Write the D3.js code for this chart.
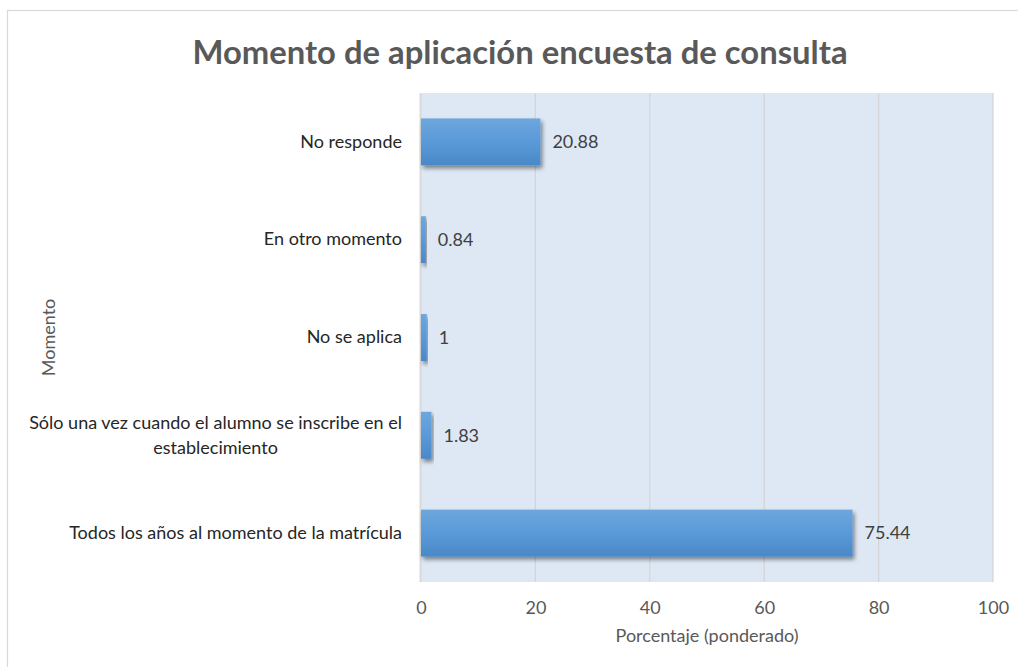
<!DOCTYPE html>
<html>
<head>
<meta charset="utf-8">
<script src="https://cdn.jsdelivr.net/npm/d3@7"></script>
<style>
  body { margin: 0; background: #fff; }
  svg { display: block; font-family: Lato, "Open Sans", sans-serif; }
</style>
</head>
<body>
<div id="chart"></div>
<script>
// data (top to bottom)
var categories = [
    "No responde",
    "En otro momento",
    "No se aplica",
    "Sólo una vez cuando el alumno se inscribe en el|establecimiento",
    "Todos los años al momento de la matrícula"
];
var values = [20.88, 0.84, 1, 1.83, 75.44];
var xTicks = [0, 20, 40, 60, 80, 100];
var title = "Momento de aplicación encuesta de consulta";
var xTitle = "Porcentaje (ponderado)";
var yTitle = "Momento";

var W = 1018, H = 667;
var FS = 18;
var plot = {left: 421, right: 993, top: 93, bottom: 582};

var svg = d3.select("#chart").append("svg")
    .attr("width", W).attr("height", H);

//---------------------------------------------------------------------
var defs = svg.append("defs");
var grad = defs.append("linearGradient").attr("id", "barGrad")
    .attr("x1", 0).attr("y1", 0).attr("x2", 0).attr("y2", 1);
grad.append("stop").attr("offset", "0%").attr("stop-color", "#6ea6dd");
grad.append("stop").attr("offset", "50%").attr("stop-color", "#5a9ad9");
grad.append("stop").attr("offset", "100%").attr("stop-color", "#4a88c7");
var shadow = defs.append("filter").attr("id", "shadow")
    .attr("x", "-10%").attr("y", "-20%").attr("width", "130%").attr("height", "160%");
shadow.append("feDropShadow").attr("dx", 2).attr("dy", 3).attr("stdDeviation", 2)
    .attr("flood-color", "#000").attr("flood-opacity", 0.45);

// chart border
svg.append("rect").attr("x", 7.5).attr("y", 10.5).attr("width", W).attr("height", H)
    .attr("fill", "none").attr("stroke", "#d9d9d9").attr("stroke-width", 1.2);

//---------------------------------------------------------------------
var x = d3.scaleLinear().domain([0, 100]).range([plot.left, plot.right]);
var y = d3.scaleBand().domain(categories).range([plot.top, plot.bottom]).paddingInner(0.52).paddingOuter(0.26);

// plot background
svg.append("rect").attr("x", plot.left).attr("y", plot.top)
    .attr("width", plot.right - plot.left).attr("height", plot.bottom - plot.top)
    .attr("fill", "#dee8f4");

// gridlines
svg.append("g").selectAll("line").data(xTicks.slice(1)).enter().append("line")
    .attr("x1", function(d){ return x(d); }).attr("x2", function(d){ return x(d); })
    .attr("y1", plot.top).attr("y2", plot.bottom)
    .attr("stroke", "#d2d4d8").attr("stroke-width", 1.2);

// value axis line at 0
svg.append("line").attr("x1", plot.left - 0.5).attr("x2", plot.left - 0.5)
    .attr("y1", plot.top).attr("y2", plot.bottom)
    .attr("stroke", "#d9d9d9").attr("stroke-width", 2);

// bars
svg.append("g").selectAll("rect").data(categories).enter().append("rect")
    .attr("x", x(0))
    .attr("y", function(d){ return y(d); })
    .attr("width", function(d, i){ return x(values[i]) - x(0); })
    .attr("height", y.bandwidth())
    .attr("fill", "url(#barGrad)")
    .attr("filter", "url(#shadow)");

// value labels
svg.append("g").selectAll("text").data(categories).enter().append("text")
    .attr("x", function(d, i){ return x(values[i]) + 12; })
    .attr("y", function(d){ return y(d) + y.bandwidth() / 2; })
    .attr("dy", "0.35em")
    .attr("font-size", FS).attr("fill", "#404040")
    .text(function(d, i){ return values[i]; });

// x axis
var xAxis = svg.append("g").attr("transform", "translate(0," + plot.bottom + ")")
    .call(d3.axisBottom(x).tickValues(xTicks).tickSize(0).tickPadding(19));
xAxis.select(".domain").remove();
xAxis.selectAll("text").attr("font-size", FS).attr("fill", "#595959")
    .attr("font-family", "Lato, 'Open Sans', sans-serif");

// y axis labels (multi-line ones centred in their own block)
var yAxis = svg.append("g").attr("transform", "translate(" + plot.left + ",0)")
    .call(d3.axisLeft(y).tickSize(0).tickPadding(19));
yAxis.select(".domain").remove();
yAxis.selectAll("text").each(function(d){
    var t = d3.select(this);
    var lines = d.split("|");
    t.text(null).attr("font-size", FS).attr("fill", "#262626")
        .attr("font-family", "Lato, 'Open Sans', sans-serif");
    if (lines.length == 1) { t.text(lines[0]); return; }
    t.attr("dy", null).attr("y", -12.5 + 6);
    var tx = +t.attr("x");
    lines.forEach(function(l, i){ t.append("tspan").attr("x", tx).attr("dy", i ? 25 : 0).text(l); });
    var w = this.getBBox().width;
    t.selectAll("tspan").attr("x", tx - w / 2);
    t.attr("text-anchor", "middle");
});

// titles
svg.append("text").attr("x", 520).attr("y", 64).attr("text-anchor", "middle")
    .attr("font-size", 32.8).attr("font-weight", "bold").attr("fill", "#595959")
    .text(title);
svg.append("text").attr("x", (plot.left + plot.right) / 2).attr("y", 642).attr("text-anchor", "middle")
    .attr("font-size", FS).attr("fill", "#595959").text(xTitle);
svg.append("text").attr("transform", "translate(55," + ((plot.top + plot.bottom) / 2) + ") rotate(-90)")
    .attr("text-anchor", "middle").attr("font-size", FS).attr("fill", "#595959").text(yTitle);
</script>
</body>
</html>
